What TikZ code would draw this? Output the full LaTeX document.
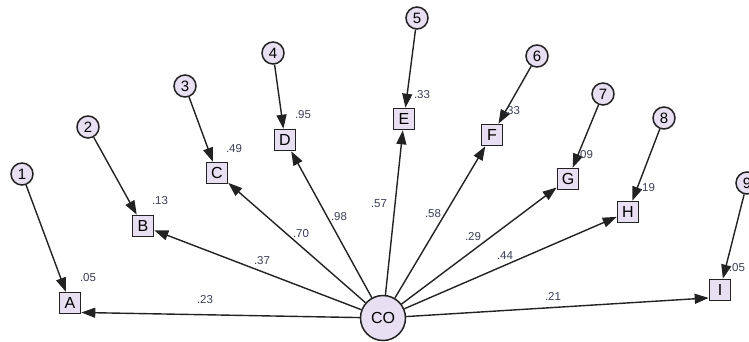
\documentclass[tikz,border=0pt]{standalone}
\usepackage{fontspec}
\setmainfont{Liberation Sans}
\usetikzlibrary{arrows.meta}
\definecolor{lav}{HTML}{E8E0F2}
\definecolor{edge}{HTML}{222222}
\definecolor{estc}{HTML}{3A3F55}

\tikzset{
  obsbox/.style={draw=edge, line width=1.6pt, fill=lav, minimum size=21pt, inner sep=0pt,
    font=\fontsize{16}{16}\selectfont},
  errcirc/.style={draw=edge, circle, line width=1.5pt, fill=lav, minimum size=22pt, inner sep=0pt,
    font=\fontsize{15}{15}\selectfont},
  latcirc/.style={draw=edge, circle, line width=1.5pt, fill=lav, minimum size=45pt, inner sep=0pt,
    font=\fontsize{16}{16}\selectfont},
  est/.style={inner sep=0pt, text=estc, font=\fontsize{11.5}{11.5}\selectfont},
  regline/.style={->, draw=edge, line width=1.4pt},
}

\begin{document}
\begin{tikzpicture}[x=1pt, y=-1pt, >={Triangle[length=14pt,width=10pt]}]
\useasboundingbox (0,0) rectangle (749,341);

% Latent factor
\node[latcirc] (CO) at (383,318) {CO};

% Observed variables
\node[obsbox] (A) at (70,303) {A};
\node[obsbox] (B) at (143,226) {B};
\node[obsbox] (C) at (217,173) {C};
\node[obsbox] (D) at (285,140) {D};
\node[obsbox] (E) at (404,119) {E};
\node[obsbox] (F) at (492,135) {F};
\node[obsbox] (G) at (568,179) {G};
\node[obsbox] (H) at (628,212) {H};
\node[obsbox] (I) at (720,290) {I};

% Error terms
\node[errcirc] (e1) at (22,174) {1};
\node[errcirc] (e2) at (88,127) {2};
\node[errcirc] (e3) at (185,86) {3};
\node[errcirc] (e4) at (273,53) {4};
\node[errcirc] (e5) at (417,18) {5};
\node[errcirc] (e6) at (537,56) {6};
\node[errcirc] (e7) at (603,94) {7};
\node[errcirc] (e8) at (664,118) {8};
\node[errcirc] (e9) at (747,183) {9};

% Error paths
\foreach \i/\v in {1/A,2/B,3/C,4/D,5/E,6/F,7/G,8/H,9/I} {
    \draw[regline] (e\i) -- (\v);
}

% Factor loadings
\draw[regline] (CO) -- (A.-40);
\draw[regline] (CO) -- (B);
\draw[regline] (CO) -- (C);
\draw[regline] (CO) -- (D);
\draw[regline] (CO) -- (E);
\draw[regline] (CO) -- (F);
\draw[regline] (CO) -- (G);
\draw[regline] (CO) -- (H);
\draw[regline] (CO) -- (I.215);

% Squared multiple correlations
\node[est] (rA) at (88,278) {.05};
\node[est] (rB) at (160,201) {.13};
\node[est] (rC) at (234,149) {.49};
\node[est] (rD) at (303,115) {.95};
\node[est] (rE) at (422,95) {.33};
\node[est] (rF) at (512,111) {.33};
\node[est] (rG) at (585,155) {.09};
\node[est] (rH) at (647,188) {.19};
\node[est] (rI) at (737,268) {.05};

% Loading estimates
\node[est] (lA) at (205,300) {.23};
\node[est] (lB) at (262,261) {.37};
\node[est] (lC) at (301,234) {.70};
\node[est] (lD) at (339,217) {.98};
\node[est] (lE) at (379,204) {.57};
\node[est] (lF) at (433,214) {.58};
\node[est] (lG) at (473,237) {.29};
\node[est] (lH) at (505,256) {.44};
\node[est] (lI) at (553,296) {.21};
\end{tikzpicture}
\end{document}
